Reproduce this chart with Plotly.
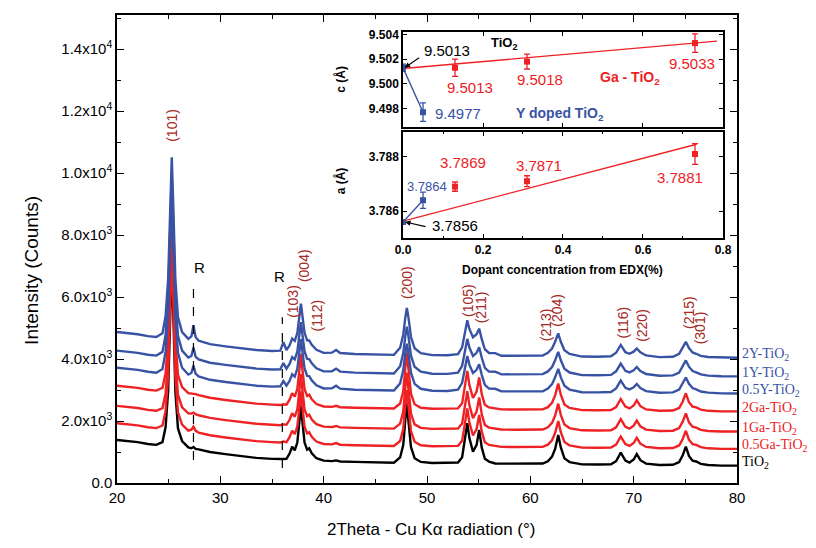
import plotly.graph_objects as go

# ---------------- main XRD data ----------------
two_theta = [20, 21, 22, 23, 23.8, 24.4, 24.7, 24.95, 25.15, 25.3,
             25.45, 25.65, 25.9, 26.3, 26.9, 27.2, 27.4, 27.6, 27.9, 29,
             30.5, 32, 33.5, 35, 35.8, 36.1, 36.4, 36.7, 36.95, 37.2,
             37.45, 37.65, 37.8, 37.95, 38.15, 38.4, 38.6, 38.85, 39.3, 40,
             40.8, 41.2, 41.6, 43, 45, 46.8, 47.4, 47.7, 47.9, 48.05,
             48.2, 48.45, 48.8, 49.4, 50.5, 52, 53, 53.4, 53.7, 53.9,
             54.1, 54.45, 54.8, 55.05, 55.3, 55.6, 56, 56.6, 57.2, 58.5,
             60, 61.2, 61.7, 62.1, 62.4, 62.7, 62.95, 63.3, 63.8, 65,
             66.5, 67.8, 68.3, 68.75, 69.2, 69.6, 70.0, 70.3, 70.65, 71.2,
             72.5, 73.8, 74.4, 74.75, 75.05, 75.35, 75.7, 76.05, 76.5, 77.2,
             78.5, 80]

tio2 = [1390, 1360, 1320, 1260, 1230, 1320, 1800, 2980, 5480, 7150,
        5450, 2950, 1760, 1350, 1150, 1120, 1160, 1100, 1085, 1000,
        930, 870, 810, 780, 765, 775, 780, 950, 1170, 1055,
        1305, 1950, 2500, 1950, 1305, 1075, 1120, 960, 800, 720,
        705, 730, 695, 680, 665, 655, 825, 1225, 2025, 2555,
        2020, 1160, 800, 680, 645, 640, 660, 830, 1415, 1930,
        1455, 1010, 1230, 1710, 1140, 780, 690, 630, 625, 620,
        615, 627, 700, 850, 1100, 1550, 1148, 795, 675, 600,
        595, 603, 702, 980, 720, 660, 758, 933, 735, 625,
        580, 588, 676, 895, 1175, 873, 722, 695, 618, 580,
        562, 560]

ga05 = [1930, 1900, 1860, 1800, 1770, 1856, 2322, 3467, 5892, 7512,
        5862, 3437, 2282, 1884, 1690, 1720, 1820, 1690, 1625, 1540,
        1470, 1410, 1350, 1320, 1305, 1340, 1319, 1480, 1690, 1580,
        1818, 2430, 2953, 2430, 1817, 1599, 1641, 1489, 1337, 1260,
        1245, 1290, 1235, 1220, 1205, 1195, 1357, 1737, 2497, 3000,
        2492, 1675, 1333, 1219, 1185, 1180, 1199, 1361, 1916, 2406,
        1954, 1532, 1741, 2197, 1655, 1313, 1227, 1200, 1165, 1160,
        1155, 1166, 1236, 1378, 1616, 2000, 1638, 1325, 1212, 1140,
        1135, 1143, 1237, 1500, 1254, 1197, 1290, 1456, 1268, 1163,
        1120, 1128, 1211, 1419, 1685, 1398, 1255, 1229, 1156, 1119,
        1102, 1100]

ga1 = [2490, 2460, 2420, 2360, 2330, 2416, 2882, 4027, 6452, 8072,
       6422, 3997, 2842, 2444, 2250, 2240, 2270, 2220, 2185, 2100,
       2030, 1970, 1910, 1880, 1865, 1890, 1879, 2040, 2250, 2140,
       2378, 2990, 3513, 2990, 2377, 2159, 2201, 2049, 1897, 1820,
       1805, 1840, 1795, 1780, 1765, 1755, 1917, 2297, 3057, 3560,
       3052, 2235, 1893, 1779, 1745, 1740, 1759, 1921, 2476, 2966,
       2514, 2092, 2301, 2757, 2215, 1873, 1787, 1760, 1725, 1720,
       1715, 1726, 1796, 1938, 2176, 2560, 2198, 1885, 1772, 1700,
       1695, 1703, 1797, 2060, 1814, 1757, 1850, 2016, 1828, 1723,
       1680, 1688, 1771, 1979, 2245, 1958, 1815, 1789, 1716, 1679,
       1662, 1660]

ga2 = [3140, 3110, 3070, 3010, 2980, 3066, 3532, 4677, 7102, 8722,
       7072, 4647, 3492, 3094, 2900, 2890, 2900, 2870, 2835, 2750,
       2680, 2620, 2560, 2530, 2515, 2540, 2529, 2690, 2900, 2790,
       3028, 3640, 4163, 3640, 3027, 2809, 2851, 2699, 2547, 2470,
       2455, 2490, 2445, 2430, 2415, 2405, 2567, 2947, 3707, 4210,
       3702, 2885, 2543, 2429, 2395, 2390, 2409, 2571, 3126, 3616,
       3164, 2742, 2951, 3407, 2865, 2523, 2437, 2410, 2375, 2370,
       2365, 2376, 2446, 2588, 2826, 3210, 2848, 2535, 2422, 2350,
       2345, 2353, 2447, 2710, 2464, 2407, 2500, 2666, 2478, 2373,
       2330, 2338, 2421, 2629, 2895, 2608, 2465, 2439, 2366, 2329,
       2312, 2310]

y05 = [3720, 3690, 3650, 3590, 3560, 3680, 4230, 5430, 7780, 9360,
       7750, 5410, 4200, 3720, 3500, 3550, 3790, 3530, 3440, 3330,
       3260, 3200, 3140, 3110, 3120, 3290, 3140, 3290, 3510, 3435,
       3685, 4230, 4640, 4230, 3695, 3455, 3450, 3310, 3150, 3050,
       3055, 3140, 3045, 3010, 2995, 2985, 3215, 3635, 4185, 4495,
       4200, 3560, 3200, 3040, 2975, 2970, 3010, 3230, 3750, 4100,
       3820, 3550, 3650, 3830, 3490, 3165, 3045, 3040, 2955, 2950,
       2945, 2962, 3050, 3190, 3410, 3680, 3408, 3135, 3015, 2930,
       2925, 2938, 3052, 3305, 3070, 3020, 3088, 3193, 3065, 2965,
       2910, 2923, 3016, 3205, 3405, 3203, 3062, 3020, 2953, 2915,
       2892, 2890]

y1 = [4270, 4240, 4200, 4140, 4110, 4230, 4780, 5980, 8330, 9910,
      8300, 5960, 4750, 4270, 4050, 4100, 4370, 4080, 3990, 3880,
      3810, 3750, 3690, 3660, 3670, 3870, 3690, 3840, 4060, 3985,
      4235, 4780, 5190, 4780, 4245, 4005, 4000, 3860, 3700, 3600,
      3605, 3690, 3595, 3560, 3545, 3535, 3765, 4185, 4735, 5045,
      4750, 4110, 3750, 3590, 3525, 3520, 3560, 3780, 4300, 4650,
      4370, 4100, 4200, 4380, 4040, 3715, 3595, 3590, 3505, 3500,
      3495, 3512, 3600, 3740, 3960, 4230, 3958, 3685, 3565, 3480,
      3475, 3488, 3602, 3855, 3620, 3570, 3638, 3743, 3615, 3515,
      3460, 3473, 3566, 3755, 3955, 3753, 3612, 3570, 3503, 3465,
      3442, 3440]

y2 = [4870, 4840, 4800, 4740, 4710, 4830, 5380, 6580, 8930, 10510,
      8900, 6560, 5350, 4870, 4650, 4730, 5090, 4710, 4590, 4480,
      4410, 4350, 4290, 4260, 4270, 4540, 4290, 4440, 4660, 4585,
      4835, 5380, 5790, 5380, 4845, 4605, 4600, 4460, 4300, 4200,
      4205, 4290, 4195, 4160, 4145, 4135, 4365, 4785, 5335, 5645,
      5350, 4710, 4350, 4190, 4125, 4120, 4160, 4380, 4900, 5250,
      4970, 4700, 4800, 4980, 4640, 4315, 4195, 4190, 4105, 4100,
      4095, 4112, 4200, 4340, 4560, 4830, 4558, 4285, 4165, 4080,
      4075, 4088, 4202, 4455, 4220, 4170, 4238, 4343, 4215, 4115,
      4060, 4073, 4166, 4355, 4555, 4353, 4212, 4170, 4103, 4065,
      4042, 4040]

sample_names = ["TiO<sub>2</sub>", "0.5Ga-TiO<sub>2</sub>", "1Ga-TiO<sub>2</sub>",
                "2Ga-TiO<sub>2</sub>", "0.5Y-TiO<sub>2</sub>", "1Y-TiO<sub>2</sub>",
                "2Y-TiO<sub>2</sub>"]
sample_data = [tio2, ga05, ga1, ga2, y05, y1, y2]

# peak labels (hkl), position (2theta) and label height (counts)
hkl_labels = ["(101)", "(103)", "(004)", "(112)", "(200)", "(105)", "(211)",
              "(213)", "(204)", "(116)", "(220)", "(215)", "(301)"]
hkl_x = [25.3, 37.05, 38.1, 39.4, 48.05, 53.95, 55.2, 61.55, 62.55, 69.0, 70.8, 75.3, 76.45]
hkl_y = [11550, 5850, 7000, 5420, 6480, 5900, 5660, 5100, 5580, 5190, 5100, 5500, 5000]

rutile_x = [27.4, 36.0]
rutile_line_top = [6290, 5350]
rutile_line_bottom = [740, 480]
rutile_label_x = [27.95, 35.75]
rutile_label_y = [6950, 6650]

y_tickvals = [0, 2000, 4000, 6000, 8000, 10000, 12000, 14000]
y_ticktext = ["0.0", "2.0x10<sup>3</sup>", "4.0x10<sup>3</sup>", "6.0x10<sup>3</sup>",
              "8.0x10<sup>3</sup>", "1.0x10<sup>4</sup>", "1.2x10<sup>4</sup>",
              "1.4x10<sup>4</sup>"]

# ---------------- inset data ----------------
ga_conc = [0.13, 0.31, 0.73]
ga_c = [9.5013, 9.5018, 9.5033]
ga_c_err = [0.0007, 0.0006, 0.00075]
ga_a = [3.7869, 3.7871, 3.7881]
ga_a_err = [0.00017, 0.0002, 0.00038]

y_conc = [0.0, 0.05]
y_c = [9.5013, 9.4977]
y_c_err = [0.0003, 0.00075]
y_a = [3.7856, 3.7864]
y_a_err = [0.00005, 0.0003]

ga_fit_c_x = [0.0, 0.785]
ga_fit_c_y = [9.50124, 9.50346]
ga_fit_a_x = [0.0, 0.734]
ga_fit_a_y = [3.78563, 3.78846]

BLUE = "#3953a4"
RED = "#ee2124"
BLACK = "#000000"
HKL = "#a5281e"
line_colors = [BLACK, RED, RED, RED, BLUE, BLUE, BLUE]

fig = go.Figure()

for name, vals, col in zip(sample_names, sample_data, line_colors):
    fig.add_trace(go.Scatter(x=two_theta, y=vals, mode="lines", name=name,
                             line=dict(color=col, width=2.4), showlegend=False,
                             xaxis="x", yaxis="y"))

# inset traces: top panel (c)
fig.add_trace(go.Scatter(x=ga_fit_c_x, y=ga_fit_c_y, mode="lines",
                         line=dict(color=RED, width=1.4), showlegend=False,
                         xaxis="x2", yaxis="y2"))
fig.add_trace(go.Scatter(x=y_conc, y=y_c, mode="lines+markers",
                         line=dict(color=BLUE, width=1.4),
                         marker=dict(symbol="square", size=6, color=BLUE),
                         error_y=dict(type="data", array=y_c_err, color=BLUE, thickness=1.3, width=3),
                         showlegend=False, xaxis="x2", yaxis="y2"))
fig.add_trace(go.Scatter(x=ga_conc, y=ga_c, mode="markers",
                         marker=dict(symbol="square", size=6, color=RED),
                         error_y=dict(type="data", array=ga_c_err, color=RED, thickness=1.3, width=3),
                         showlegend=False, xaxis="x2", yaxis="y2"))
# inset traces: bottom panel (a)
fig.add_trace(go.Scatter(x=ga_fit_a_x, y=ga_fit_a_y, mode="lines",
                         line=dict(color=RED, width=1.4), showlegend=False,
                         xaxis="x3", yaxis="y3"))
fig.add_trace(go.Scatter(x=y_conc, y=y_a, mode="lines+markers",
                         line=dict(color=BLUE, width=1.4),
                         marker=dict(symbol="square", size=6, color=BLUE),
                         error_y=dict(type="data", array=y_a_err, color=BLUE, thickness=1.3, width=3),
                         showlegend=False, xaxis="x3", yaxis="y3"))
fig.add_trace(go.Scatter(x=ga_conc, y=ga_a, mode="markers",
                         marker=dict(symbol="square", size=6, color=RED),
                         error_y=dict(type="data", array=ga_a_err, color=RED, thickness=1.3, width=3),
                         showlegend=False, xaxis="x3", yaxis="y3"))

annotations = []
FONT = "Liberation Sans, Arial, sans-serif"
SERIF = "Liberation Serif, Times New Roman, serif"

# hkl labels
for t, xv, yv in zip(hkl_labels, hkl_x, hkl_y):
    annotations.append(dict(x=xv, y=yv, xref="x", yref="y", text=t, showarrow=False,
                            xanchor="center", yanchor="middle",
                            textangle=-90, font=dict(family=FONT, size=14, color=HKL)))
# rutile labels
for xv, yv in zip(rutile_label_x, rutile_label_y):
    annotations.append(dict(x=xv, y=yv, xref="x", yref="y", text="R", showarrow=False,
                            xanchor="center", yanchor="middle",
                            font=dict(family=FONT, size=15, color=BLACK)))
# sample labels at right end of each curve
for name, vals, col in zip(sample_names, sample_data, line_colors):
    annotations.append(dict(x=1.005, y=vals[-1], xref="paper", yref="y", text=name,
                            showarrow=False, xanchor="left", yanchor="middle", yshift=3,
                            font=dict(family=SERIF, size=14, color=col)))

# axis titles
annotations.append(dict(x=-0.139, y=0.455, xref="paper", yref="paper", text="Intensity (Counts)",
                        showarrow=False, textangle=-90, xanchor="center", yanchor="middle",
                        font=dict(family=FONT, size=19, color=BLACK)))
annotations.append(dict(x=0.506, y=-0.1, xref="paper", yref="paper",
                        text="2Theta - Cu K\u03b1 radiation (\u00b0)", showarrow=False,
                        xanchor="center", yanchor="middle",
                        font=dict(family=FONT, size=17, color=BLACK)))

# inset annotations
def ins(x, y, text, color, size=15, bold=False, ax="2"):
    return dict(x=x, y=y, xref="x" + ax, yref="y" + ax, text=text, showarrow=False,
                xanchor="center", yanchor="middle",
                font=dict(family=FONT, size=size, color=color, weight="bold" if bold else "normal"))

annotations += [
    ins(0.11, 9.50271, "9.5013", BLACK),
    ins(0.255, 9.50328, "TiO<sub>2</sub>", BLACK, size=13, bold=True),
    ins(0.1675, 9.49974, "9.5013", RED),
    ins(0.3425, 9.50031, "9.5018", RED),
    ins(0.7225, 9.50167, "9.5033", RED),
    ins(0.5675, 9.50047, "Ga - TiO<sub>2</sub>", RED, size=14, bold=True),
    ins(0.1375, 9.49757, "9.4977", BLUE),
    ins(0.3925, 9.49757, "Y doped TiO<sub>2</sub>", BLUE, size=14, bold=True),
    dict(x=0.004, y=9.5013, xref="x2", yref="y2", text="", showarrow=True,
         ax=16, ay=-11, arrowhead=2, arrowsize=1, arrowwidth=1.1, arrowcolor=BLACK),
    ins(0.15, 3.78777, "3.7869", RED, ax="3"),
    ins(0.34, 3.78769, "3.7871", RED, ax="3"),
    ins(0.6925, 3.78725, "3.7881", RED, ax="3"),
    ins(0.06, 3.78692, "3.7864", BLUE, size=13, ax="3"),
    ins(0.13, 3.78548, "3.7856", BLACK, ax="3"),
    dict(x=0.005, y=3.7856, xref="x3", yref="y3", text="", showarrow=True,
         ax=22, ay=5, arrowhead=2, arrowsize=1, arrowwidth=1.1, arrowcolor=BLACK),
    dict(x=0.36, y=0.862, xref="paper", yref="paper", text="c (\u00c5)", showarrow=False,
         textangle=-90, xanchor="center", yanchor="middle",
         font=dict(family=FONT, size=12, color=BLACK, weight="bold")),
    dict(x=0.36, y=0.645, xref="paper", yref="paper", text="a (\u00c5)", showarrow=False,
         textangle=-90, xanchor="center", yanchor="middle",
         font=dict(family=FONT, size=12, color=BLACK, weight="bold")),
    dict(x=0.719, y=0.455, xref="paper", yref="paper", text="Dopant concentration from EDX(%)",
         showarrow=False, xanchor="center", yanchor="middle",
         font=dict(family=FONT, size=12, color=BLACK, weight="bold")),
]

shapes = []
for xv, yt, yb in zip(rutile_x, rutile_line_top, rutile_line_bottom):
    shapes.append(dict(type="line", xref="x", yref="y", x0=xv, x1=xv, y0=yb, y1=yt,
                       line=dict(color=BLACK, width=1.2, dash="dash")))

axis_common = dict(showline=True, linecolor=BLACK, linewidth=1.5, mirror="ticks",
                   ticks="inside", tickcolor=BLACK, showgrid=False, zeroline=False,
                   automargin=False)

inset_x = [0.4613, 0.9774]
# the page body has an 8px margin, so the figure is 8px smaller than the window
fig.update_layout(
    width=808, height=540,
    margin=dict(l=109, r=79, t=7, b=65),
    paper_bgcolor="white", plot_bgcolor="white",
    font=dict(family=FONT, color=BLACK),
    xaxis=dict(range=[20, 80], dtick=10, tick0=20, ticklen=7, tickwidth=1.3,
               tickfont=dict(size=15), minor=dict(dtick=5, ticklen=4, ticks="inside", tickcolor=BLACK),
               **axis_common),
    yaxis=dict(range=[0, 15100], tickmode="array", tickvals=y_tickvals, ticktext=y_ticktext,
               ticklen=7, tickwidth=1.3, tickfont=dict(size=15),
               minor=dict(tick0=0, dtick=1000, ticklen=4, ticks="inside", tickcolor=BLACK),
               **axis_common),
    xaxis2=dict(domain=inset_x, anchor="y2", range=[0, 0.8], dtick=0.2, showticklabels=False,
                ticklen=4, **axis_common),
    yaxis2=dict(domain=[0.7607, 0.9637], anchor="x2", range=[9.4965, 9.5042],
                tickvals=[9.498, 9.500, 9.502, 9.504], ticktext=["9.498", "9.500", "9.502", "9.504"],
                ticklen=4, tickfont=dict(size=12, weight="bold"), **axis_common),
    xaxis3=dict(domain=inset_x, anchor="y3", range=[0, 0.8], dtick=0.2, tickformat=".1f",
                ticklen=4, tickfont=dict(size=12, weight="bold"),
                minor=dict(dtick=0.1, ticklen=2, ticks="inside", tickcolor=BLACK), **axis_common),
    yaxis3=dict(domain=[0.5235, 0.75], anchor="x3", range=[3.78501, 3.78891],
                tickvals=[3.786, 3.788], ticktext=["3.786", "3.788"],
                ticklen=4, tickfont=dict(size=12, weight="bold"), **axis_common),
    annotations=annotations,
    shapes=shapes,
)

fig.write_html("out.html")
